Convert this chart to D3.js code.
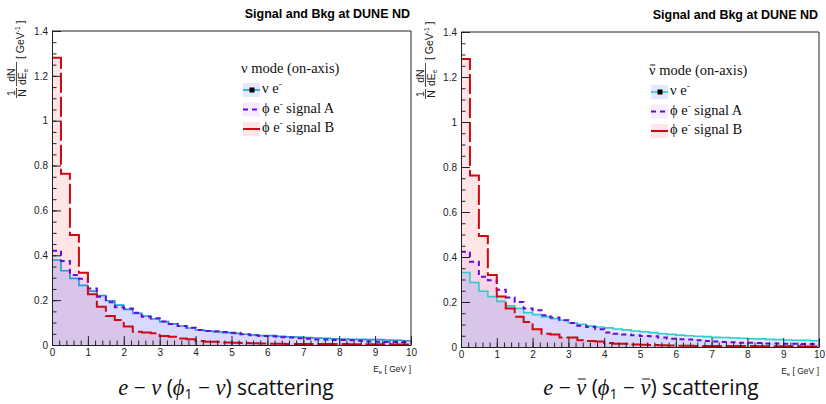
<!DOCTYPE html>
<html>
<head>
<meta charset="utf-8">
<script src="https://cdn.jsdelivr.net/npm/d3@7"></script>
<style>
  body { margin: 0; background: #fff; }
  svg { display: block; }
  .tick text { font-family: "Liberation Sans", Arial, sans-serif; font-size: 10px; fill: #222; }
  .tick line { stroke: #222; }
  .domain { stroke: #222; }
</style>
</head>
<body>
<svg id="chart" width="826" height="404"></svg>
<script>
// bin lower edges in GeV (40 bins of 0.25 GeV)
var binEdges = [0,0.25,0.5,0.75,1,1.25,1.5,1.75,2,2.25,2.5,2.75,3,3.25,3.5,3.75,4,4.25,4.5,4.75,
  5,5.25,5.5,5.75,6,6.25,6.5,6.75,7,7.25,7.5,7.75,8,8.25,8.5,8.75,9,9.25,9.5,9.75,10];

// nu mode (on-axis)
var nuModeNuE = [0.379,0.331,0.297,0.266,0.240,0.220,0.197,0.178,0.159,0.141,0.129,0.116,0.104,0.094,0.085,0.076,0.067,0.062,0.058,0.055,
  0.052,0.048,0.045,0.042,0.042,0.039,0.037,0.036,0.033,0.031,0.030,0.028,0.027,0.025,0.025,0.024,0.024,0.022,0.021,0.019];
var nuModeSigA = [0.420,0.374,0.312,0.295,0.252,0.215,0.191,0.168,0.163,0.144,0.126,0.119,0.105,0.094,0.085,0.077,0.067,0.062,0.061,0.058,
  0.055,0.048,0.043,0.040,0.039,0.034,0.033,0.030,0.028,0.025,0.025,0.022,0.022,0.021,0.019,0.016,0.015,0.013,0.013,0.012];
var nuModeSigB = [1.281,0.763,0.491,0.322,0.226,0.171,0.129,0.111,0.082,0.059,0.056,0.052,0.040,0.037,0.029,0.026,0.018,0.015,0.014,0.011,
  0.010,0.009,0.008,0.007,0.006,0.006,0.005,0.005,0.005,0.004,0.004,0.004,0.004,0.003,0.003,0.003,0.003,0.003,0.002,0.002];

// nubar mode (on-axis)
var nubarModeNuE = [0.331,0.287,0.248,0.224,0.203,0.183,0.171,0.153,0.144,0.134,0.126,0.119,0.107,0.101,0.094,0.089,0.085,0.080,0.076,0.071,
  0.068,0.064,0.059,0.056,0.053,0.050,0.048,0.046,0.043,0.042,0.040,0.039,0.037,0.036,0.034,0.033,0.031,0.030,0.030,0.028];
var nubarModeSigA = [0.423,0.379,0.312,0.297,0.255,0.220,0.200,0.171,0.163,0.141,0.131,0.119,0.107,0.095,0.089,0.079,0.064,0.059,0.056,0.052,
  0.049,0.048,0.042,0.037,0.034,0.033,0.030,0.027,0.024,0.022,0.021,0.019,0.019,0.018,0.016,0.016,0.015,0.015,0.013,0.013];
var nubarModeSigB = [1.280,0.762,0.493,0.320,0.225,0.171,0.134,0.111,0.079,0.059,0.056,0.042,0.042,0.030,0.027,0.024,0.018,0.015,0.014,0.011,
  0.010,0.009,0.008,0.007,0.006,0.006,0.005,0.005,0.005,0.004,0.004,0.004,0.004,0.003,0.003,0.003,0.003,0.003,0.002,0.002];

var yTicks = [0, 0.2, 0.4, 0.6, 0.8, 1, 1.2, 1.4];
var xTicks = [0,1,2,3,4,5,6,7,8,9,10];
var legendLabels = ["ν e", "ϕ e", "ϕ e"];
var legendSuffix = ["", " signal A", " signal B"];

const svg = d3.select('#chart');

// draw a bar over one character of a text element (for nu-bar)
function barOver(textSel, idx, lift) {
  var box = textSel.node().getExtentOfChar(idx);
  svg.append('line')
    .attr('x1', box.x + box.width * 0.18).attr('x2', box.x + box.width * 0.95)
    .attr('y1', box.y + lift).attr('y2', box.y + lift)
    .attr('stroke', '#111').attr('stroke-width', 1);
}

function drawPanel(opt) {
  var x = d3.scaleLinear().domain([0, 10]).range([opt.left, opt.right]);
  var y = d3.scaleLinear().domain([0, 1.4]).range([opt.bottom, opt.top]);
  var g = svg.append('g');

  var clipId = 'clip' + opt.id;
  svg.append('clipPath').attr('id', clipId)
    .append('rect')
    .attr('x', opt.left).attr('y', opt.top)
    .attr('width', opt.right - opt.left).attr('height', opt.bottom - opt.top);

  var series = [
    {vals: opt.nuE, stroke: opt.cyan, fill: '#3c6cff', fo: 0.15, width: 1.6, dash: null},
    {vals: opt.sigA, stroke: '#6a0ad8', fill: '#9a50ff', fo: 0.10, width: 2, dash: '5,4'},
    {vals: opt.sigB, stroke: '#cc0a14', fill: '#ff1010', fo: 0.11, width: 2, dash: '20,4'}
  ];

  function pts(vals) {
    var p = vals.map(function(v, i) { return [binEdges[i], v]; });
    p.push([binEdges[vals.length], vals[vals.length - 1]]);
    return p;
  }
  var area = d3.area().curve(d3.curveStepAfter)
    .x(function(d) { return x(d[0]); })
    .y0(y(0))
    .y1(function(d) { return y(d[1]); });
  var line = d3.line().curve(d3.curveStepAfter)
    .x(function(d) { return x(d[0]); })
    .y(function(d) { return y(d[1]); });

  var hg = g.append('g').attr('clip-path', 'url(#' + clipId + ')');
  // fills: red first so the blue sits on top of it
  [2, 1, 0].forEach(function(k) {
    var s = series[k];
    hg.append('path').attr('d', area(pts(s.vals)))
      .attr('fill', s.fill).attr('fill-opacity', s.fo);
  });
  series.forEach(function(s) {
    hg.append('path').attr('d', line(pts(s.vals)))
      .attr('fill', 'none').attr('stroke', s.stroke)
      .attr('stroke-width', s.width)
      .attr('stroke-dasharray', s.dash);
  });

  // axes, ROOT style: ticks pointing into the frame
  g.append('g').attr('transform', 'translate(' + opt.left + ',0)')
    .call(d3.axisLeft(y).tickValues(d3.range(0, 1.401, 0.05)).tickSize(-4.5).tickFormat(''))
    .call(function(a) { a.select('.domain').remove(); });
  g.append('g').attr('transform', 'translate(' + opt.left + ',0)')
    .call(d3.axisLeft(y).tickValues(yTicks).tickSizeInner(-9).tickSizeOuter(0).tickPadding(4)
      .tickFormat(function(d) { return d3.format('')(+d.toFixed(1)); }));
  g.append('g').attr('transform', 'translate(0,' + opt.bottom + ')')
    .call(d3.axisBottom(x).tickValues(d3.range(0, 10.01, 0.2)).tickSize(-4.5).tickFormat(''))
    .call(function(a) { a.select('.domain').remove(); });
  g.append('g').attr('transform', 'translate(0,' + opt.bottom + ')')
    .call(d3.axisBottom(x).tickValues(xTicks).tickSizeInner(-9).tickSizeOuter(0).tickPadding(4));

  // frame top and right
  g.append('path')
    .attr('d', 'M' + opt.left + ',' + opt.top + 'H' + opt.right + 'V' + opt.bottom)
    .attr('fill', 'none').attr('stroke', '#222');

  // title
  g.append('text')
    .attr('x', opt.right - 1).attr('y', opt.top - 13.5)
    .attr('text-anchor', 'end')
    .style('font-family', '"Liberation Sans", Arial, sans-serif')
    .style('font-weight', 'bold').style('font-size', '12.5px')
    .text('Signal and Bkg at DUNE ND');

  // x title
  var xt = g.append('text')
    .attr('x', opt.right).attr('y', opt.bottom + 27)
    .attr('text-anchor', 'end')
    .style('font-family', '"Liberation Sans", Arial, sans-serif')
    .style('font-size', '8.5px').attr('fill', '#222');
  xt.append('tspan').text('E');
  xt.append('tspan').attr('dy', 2).style('font-size', '6px').text('e');
  xt.append('tspan').attr('dy', -2).text(' [ GeV ]');

  // y title
  var yt = g.append('g')
    .attr('transform', 'translate(' + (opt.left - 27) + ',' + (opt.top + 69) + ') rotate(-90)')
    .style('font-family', '"Liberation Sans", Arial, sans-serif')
    .style('font-size', '10.5px').attr('fill', '#222');
  yt.append('text').attr('x', 7).attr('y', -10.5).attr('text-anchor', 'middle').text('1');
  yt.append('line').attr('x1', 2).attr('x2', 12).attr('y1', -8.5).attr('y2', -8.5).attr('stroke', '#222').attr('stroke-width', 0.8);
  yt.append('text').attr('x', 7).attr('y', 0.5).attr('text-anchor', 'middle').text('N');
  yt.append('text').attr('x', 25).attr('y', -10.5).attr('text-anchor', 'middle').text('dN');
  yt.append('line').attr('x1', 14).attr('x2', 38).attr('y1', -8.5).attr('y2', -8.5).attr('stroke', '#222').attr('stroke-width', 0.8);
  var de = yt.append('text').attr('x', 15).attr('y', 0.5);
  de.append('tspan').text('dE');
  de.append('tspan').attr('dy', 2).style('font-size', '6.5px').text('e');
  var gv = yt.append('text').attr('x', 41).attr('y', -1);
  gv.append('tspan').text('[ GeV');
  gv.append('tspan').attr('dy', -4.5).style('font-size', '6.5px').text('-1');
  gv.append('tspan').attr('dy', 4.5).text(' ]');

  // legend
  var lg = g.append('g')
    .style('font-family', '"Liberation Serif", "Times New Roman", serif')
    .style('font-size', '14.5px').attr('fill', '#111');
  var hdr = lg.append('text').attr('x', opt.legX).attr('y', opt.legY)
    .text('ν mode (on-axis)');
  if (opt.bar) barOver(hdr, 0, 3);
  series.forEach(function(s, i) {
    var ry = opt.legY + 20 + i * 19.5;
    lg.append('rect').attr('x', opt.legX + 2).attr('y', ry - 10)
      .attr('width', 17).attr('height', 14)
      .attr('fill', s.fill).attr('fill-opacity', s.fo);
    lg.append('line').attr('x1', opt.legX + 2).attr('x2', opt.legX + 19)
      .attr('y1', ry - 3).attr('y2', ry - 3)
      .attr('stroke', s.stroke).attr('stroke-width', s.width)
      .attr('stroke-dasharray', i == 1 ? '5,4' : null);
    if (i == 0) {
      lg.append('rect').attr('x', opt.legX + 8.5).attr('y', ry - 5.5)
        .attr('width', 5).attr('height', 5).attr('fill', '#000');
    }
    var t = lg.append('text').attr('x', opt.legX + 21).attr('y', ry);
    t.append('tspan').text(legendLabels[i]);
    t.append('tspan').attr('dy', -6).style('font-size', '9px').text('-');
    t.append('tspan').attr('dy', 6).text(legendSuffix[i]);
  });

  // caption below the panel
  var cap = svg.append('text')
    .attr('x', opt.capX).attr('y', 395)
    .attr('text-anchor', 'middle')
    .style('font-family', '"Open Sans", "DejaVu Sans", sans-serif')
    .style('font-size', '21px').attr('fill', '#111');
  function mathPart(s) {
    cap.append('tspan').style('font-style', 'italic')
      .style('font-family', '"Liberation Serif", serif').style('font-size', '22.5px').text(s);
  }
  mathPart('e');
  cap.append('tspan').text(' − ');
  mathPart('ν');
  cap.append('tspan').text(' (');
  mathPart('ϕ');
  cap.append('tspan').attr('dy', 4).style('font-size', '14px').text('1');
  cap.append('tspan').attr('dy', -4).text(' − ');
  mathPart('ν');
  cap.append('tspan').text(') scattering');
  if (opt.bar) {
    barOver(cap, 4, 4);
    barOver(cap, 12, 4);
  }
}

drawPanel({id: 'L', left: 52, right: 411, top: 31, bottom: 345,
  nuE: nuModeNuE, sigA: nuModeSigA, sigB: nuModeSigB,
  cyan: '#1d9bd4', legX: 241, legY: 73, capX: 226, bar: false});
drawPanel({id: 'R', left: 461, right: 819, top: 32, bottom: 347,
  nuE: nubarModeNuE, sigA: nubarModeSigA, sigB: nubarModeSigB,
  cyan: '#30cccc', legX: 649, legY: 75, capX: 651, bar: true});
</script>
</body>
</html>
